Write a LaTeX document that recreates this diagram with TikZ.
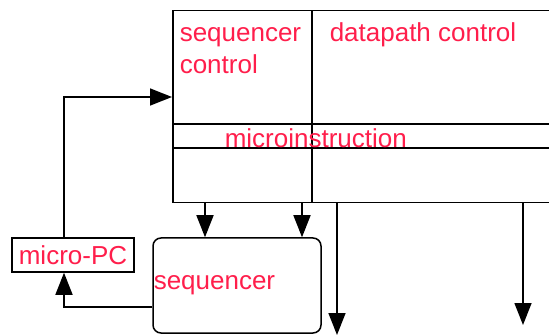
\documentclass[tikz,border=0pt]{standalone}
\usepackage{fontspec}
\setmainfont{Liberation Sans}
\usetikzlibrary{arrows.meta}
\definecolor{labelred}{RGB}{255,30,75}
\begin{document}
\begin{tikzpicture}[x=1pt,y=1pt,line width=1.5pt,
    lbl/.style={text=labelred,font=\fontsize{26}{32}\selectfont,inner sep=0pt},
    box/.style={draw,inner sep=0pt},
    flow/.style={-{Triangle[length=22pt,width=17pt]}}]
  \clip (0,0) rectangle (549,335);
  % microinstruction register
  \node[box,anchor=north west,minimum width=139pt,minimum height=192pt] (seqctl) at (172,325) {};
  \node[box,anchor=north west,minimum width=260pt,minimum height=192pt] (dpctl) at (311,325) {};
  \draw (seqctl.west |- 0,211) -- (dpctl.east |- 0,211);
  \draw (seqctl.west |- 0,187) -- (dpctl.east |- 0,187);
  \node[lbl,anchor=base west] (seqtxt) at (179,293) {sequencer};
  \node[lbl,anchor=base west] (ctltxt) at (179,261) {control};
  \node[lbl,anchor=base west] (dptxt) at (329,293) {datapath control};
  \node[lbl,anchor=base west] (mitxt) at (224,187) {microinstruction};
  % sequencer and micro-PC
  \node[box,minimum width=122pt,minimum height=34pt] (upc) at (73,80) {};
  \node[lbl] (upctxt) at (upc) {micro-PC};
  \node[box,rounded corners=8pt,minimum width=168pt,minimum height=95pt] (seq) at (237,49.5) {};
  \node[lbl,anchor=base west] (seqname) at (153,46) {sequencer};
  \coordinate (out1) at (337,0);
  \coordinate (out2) at (523,10);
  \begin{scope}[flow]
    \draw (upc.north -| 64,0) |- (seqctl.west |- 0,238);
    \draw (seq.west |- 0,28) -| (upc.south -| 64,0);
    \draw (seqctl.south -| 205,0) -- (seq.north -| 205,0);
    \draw (seqctl.south -| 302,0) -- (seq.north -| 302,0);
    \draw (dpctl.south -| out1) -- (out1);
    \draw (dpctl.south -| out2) -- (out2);
  \end{scope}
\end{tikzpicture}
\end{document}
